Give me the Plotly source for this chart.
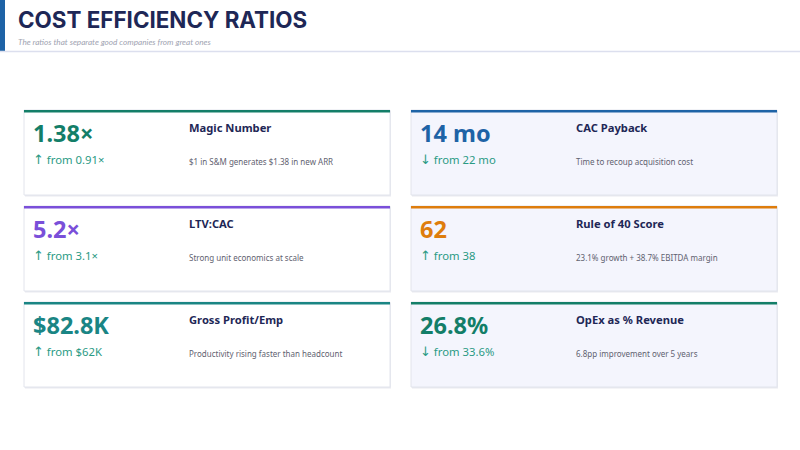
import plotly.graph_objects as go

# ___data______________________________________________________
TITLE = "COST EFFICIENCY RATIOS"
SUBTITLE = "The ratios that separate good companies from great ones"

values = ["1.38×", "14 mo", "5.2×", "62", "$82.8K", "26.8%"]
labels = ["Magic Number", "CAC Payback", "LTV:CAC", "Rule of 40 Score",
          "Gross Profit/Emp", "OpEx as % Revenue"]
arrows = ["↑", "↓", "↑", "↑", "↑", "↓"]
deltas = ["from 0.91×", "from 22 mo", "from 3.1×", "from 38",
          "from $62K", "from 33.6%"]
notes = ["$1 in S&M generates $1.38 in new ARR",
         "Time to recoup acquisition cost",
         "Strong unit economics at scale",
         "23.1% growth + 38.7% EBITDA margin",
         "Productivity rising faster than headcount",
         "6.8pp improvement over 5 years"]
accents = ["#137e68", "#1e63a6", "#7a4fd9", "#de7d0c", "#1a8584", "#137e68"]

W, H = 800, 450
NAVY = "#1e2756"
DELTA = "#2a9a84"

fig = go.Figure()
shapes = []
annots = []

# ___header____________________________________________________
shapes.append(dict(type="rect", x0=0, x1=5, y0=0, y1=51,
                   fillcolor="#1e63a6", line_width=0))
shapes.append(dict(type="line", x0=0, x1=W, y0=51.5, y1=51.5,
                   line=dict(color="#dcdfee", width=1.5)))
annots.append(dict(x=16, y=19, text="<b>" + TITLE + "</b>", xanchor="left",
                   yanchor="middle", showarrow=False,
                   font=dict(family="Inter", size=22.4, color=NAVY)))
annots.append(dict(x=16, y=42, text="<i>" + SUBTITLE + "</i>", xanchor="left",
                   yanchor="middle", showarrow=False,
                   font=dict(family="Lato", size=8.2, color="#a0a3b1")))

# ___cards_____________________________________________________
card_w, card_h = 366, 85
col_x = [24, 411]
row_y = [110, 206, 302]

for i in range(len(values)):
    x0 = col_x[i % 2]
    y0 = row_y[i // 2]
    bg = "#ffffff" if i % 2 == 0 else "#f4f5fd"
    shapes.append(dict(type="rect", x0=x0 + 1, x1=x0 + card_w + 1,
                       y0=y0 + 1, y1=y0 + card_h + 1.5,
                       fillcolor="#e9eaf0", line_width=0))
    shapes.append(dict(type="rect", x0=x0, x1=x0 + card_w, y0=y0, y1=y0 + card_h,
                       fillcolor=bg, line=dict(color="#e2e4ec", width=1)))
    shapes.append(dict(type="rect", x0=x0, x1=x0 + card_w, y0=y0, y1=y0 + 2.5,
                       fillcolor=accents[i], line_width=0))
    annots.append(dict(x=x0 + 7, y=y0 + 23, text="<b>" + values[i] + "</b>",
                       xanchor="left", yanchor="middle", showarrow=False,
                       font=dict(family="Noto Sans", size=23.5, color=accents[i])))
    delta_txt = ("<span style='font-family:DejaVu Sans;font-size:13px'>"
                 + arrows[i] + "</span> " + deltas[i])
    annots.append(dict(x=x0 + 7, y=y0 + 49, text=delta_txt,
                       xanchor="left", yanchor="middle", showarrow=False,
                       font=dict(family="Noto Sans", size=11.3, color=DELTA)))
    annots.append(dict(x=x0 + 163, y=y0 + 17, text="<b>" + labels[i] + "</b>",
                       xanchor="left", yanchor="middle", showarrow=False,
                       font=dict(family="Noto Sans", size=11.2, color=NAVY)))
    annots.append(dict(x=x0 + 163, y=y0 + 51, text=notes[i],
                       xanchor="left", yanchor="middle", showarrow=False,
                       font=dict(family="Noto Sans", size=8, color="#5f6270")))

fig.update_layout(
    width=W, height=H,
    margin=dict(l=0, r=0, t=0, b=0),
    paper_bgcolor="#ffffff", plot_bgcolor="#ffffff",
    xaxis=dict(range=[0, W], visible=False, fixedrange=True),
    yaxis=dict(range=[H, 0], visible=False, fixedrange=True),
    shapes=shapes, annotations=annots, showlegend=False,
)

fig.write_html("out.html", config={"displayModeBar": False},
               post_script="document.body.style.margin='0';")
